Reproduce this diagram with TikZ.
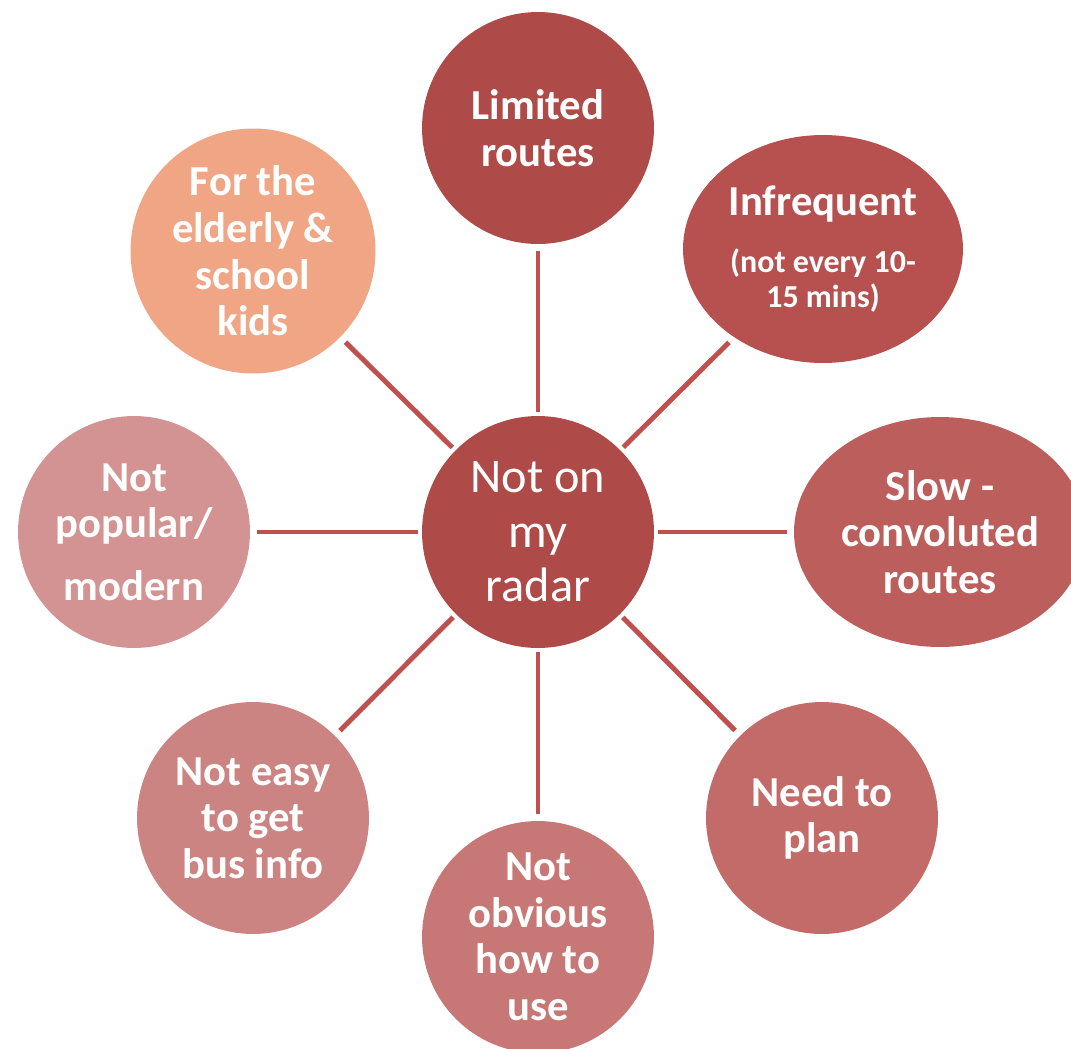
\documentclass[tikz,border=0pt]{standalone}
\usepackage{fontspec}
\setmainfont{Carlito}
\usetikzlibrary{shapes.geometric}
\definecolor{hubred}{HTML}{AE4A47}
\definecolor{limitc}{HTML}{AE4A47}
\definecolor{infreqc}{HTML}{B6514F}
\definecolor{slowc}{HTML}{BC5E5B}
\definecolor{planc}{HTML}{C26B69}
\definecolor{obviousc}{HTML}{C77876}
\definecolor{easyc}{HTML}{CC8483}
\definecolor{popularc}{HTML}{D29392}
\definecolor{elderc}{HTML}{F0A585}
\definecolor{spokered}{HTML}{C0504D}
\newcommand{\smalltxt}{\fontsize{18.2}{20}\selectfont}

\begin{document}
\begin{tikzpicture}[
  x=0.02cm,y=-0.02cm,
  bubble/.style={circle,minimum size=4.64cm,inner sep=0pt,text=white,align=center,font=\bfseries\fontsize{24.3}{26.5}\selectfont},
  oval/.style={bubble,ellipse},
  hub/.style={bubble,font=\fontsize{27.5}{31}\selectfont},
  spoke/.style={draw=spokered,line width=2.8pt,shorten <=0.08cm,shorten >=0.14cm}
]
  \useasboundingbox (0,0) rectangle (1071,1048);
  \node[hub,fill=hubred] (hub) at (538,532) {Not on\\my\\radar};
  \node[bubble,fill=limitc] (limited) at (538,128) {Limited\\routes};
  \node[oval,fill=infreqc,minimum width=5.6cm,minimum height=4.56cm] (infreq) at (823,249)
    {Infrequent\\[6pt]{\smalltxt (not every 10-}\\[-6.8pt]{\smalltxt 15 mins)}};
  \node[oval,fill=slowc,minimum width=5.84cm,minimum height=4.6cm] (slow) at (940,532) {Slow -\\convoluted\\routes};
  \node[bubble,fill=planc] (plan) at (822,818) {Need to\\plan};
  \node[bubble,fill=obviousc] (obvious) at (538,937) {Not\\obvious\\how to\\use};
  \node[bubble,fill=easyc] (easy) at (253,818) {Not easy\\to get\\bus info};
  \node[bubble,fill=popularc] (popular) at (134,532) {Not\\popular/\\[9pt]modern};
  \node[bubble,fill=elderc,minimum size=4.9cm] (elder) at (253,251) {For the\\elderly \&\\school\\kids};
  \foreach \n in {limited,infreq,slow,plan,obvious,easy,popular,elder}
    \draw[spoke] (hub) -- (\n);
\end{tikzpicture}
\end{document}
